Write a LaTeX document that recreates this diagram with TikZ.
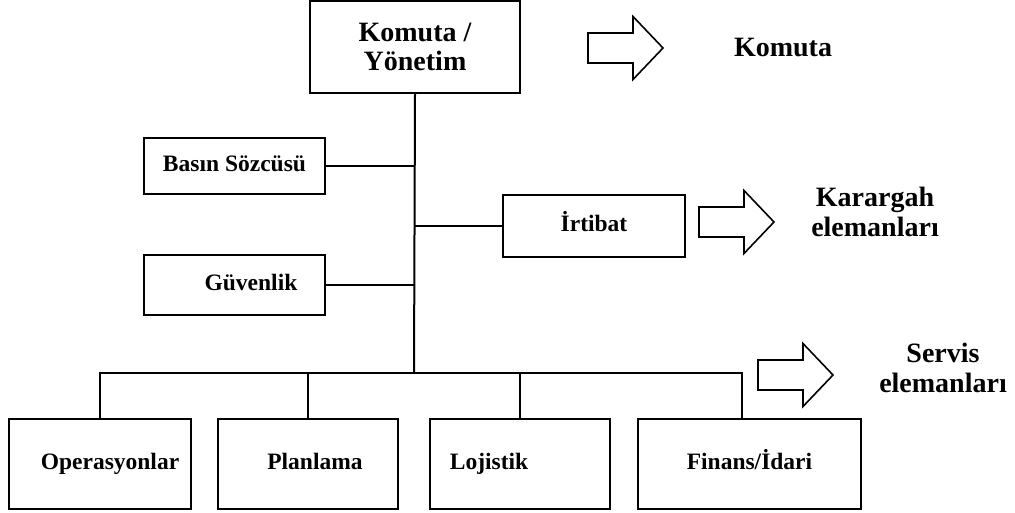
\documentclass[tikz,border=0pt]{standalone}
\usepackage{fontspec}
\setmainfont{Liberation Serif}
\usepackage{tikz}
\usetikzlibrary{positioning}
\tikzset{
    orgBox/.style={draw, line width=2pt, inner sep=2pt, align=center,
		text height=16pt, text depth=5pt,
		font=\bfseries\fontsize{23.5}{28}\selectfont}
}
\tikzset{
    bigText/.style={align=center, font=\bfseries\fontsize{28}{29.5}\selectfont}
}
\tikzset{
    hollowArrow/.pic={
		\draw[line width=1.6pt] (0,-15) -- (45,-15) -- (45,-31.5) -- (75,0)
			-- (45,31.5) -- (45,15) -- (0,15) -- cycle;
	}
}

\begin{document}
\begin{tikzpicture}[x=1pt,y=-1pt]
	\useasboundingbox (0,0) rectangle (1015,512);
			\node[draw, line width=2pt, bigText, minimum width=210pt, minimum height=92pt] (komuta) at (415,47) {Komuta /\\Yönetim};
			\node[orgBox, minimum width=181pt, minimum height=56pt] (basin) at (234.5,166) {Basın Sözcüsü};
			\node[orgBox, minimum width=182pt, minimum height=62pt] (irtibat) at (594,226) {İrtibat};
			\node[orgBox, minimum width=181pt, minimum height=60pt] (guvenlik) at (234.5,285) {\hspace*{33pt}Güvenlik};
			\node[orgBox, minimum width=182pt, minimum height=90pt] (operasyon) at (100,464) {\hspace*{20pt}Operasyonlar};
			\node[orgBox, minimum width=180pt, minimum height=90pt] (planlama) at (308,464) {\hspace*{14pt}Planlama};
			\node[orgBox, minimum width=180pt, minimum height=90pt] (lojistik) at (520,464) {Lojistik\hspace*{62pt}};
			\node[orgBox, minimum width=223pt, minimum height=90pt] (finans) at (749.5,464) {Finans/İdari};
			\coordinate (bus) at (414,373);
			\draw[line width=2pt] (komuta.south) -- (bus);
			\draw[line width=2pt] (basin.east) -- (komuta.south |- basin.east);
			\draw[line width=2pt] (irtibat.west) -- (komuta.south |- irtibat.west);
			\draw[line width=2pt] (guvenlik.east) -- (komuta.south |- guvenlik.east);
			\draw[line width=2pt] (operasyon.north) |- ([xshift=-8pt]finans.north |- bus) -- ([xshift=-8pt]finans.north);
			\draw[line width=2pt] (planlama.north) -- (planlama.north |- bus);
			\draw[line width=2pt] (lojistik.north) -- (lojistik.north |- bus);
			\pic at (588,48) {hollowArrow};
			\pic at (699,222) {hollowArrow};
			\pic at (758,375) {hollowArrow};
			\node[bigText] (komutaLbl) at (783,47) {Komuta};
			\node[bigText] (karargahLbl) at (875,212) {Karargah\\elemanları};
			\node[bigText] (servisLbl) at (943,368) {Servis\\elemanları};
	\end{tikzpicture}
\end{document}
